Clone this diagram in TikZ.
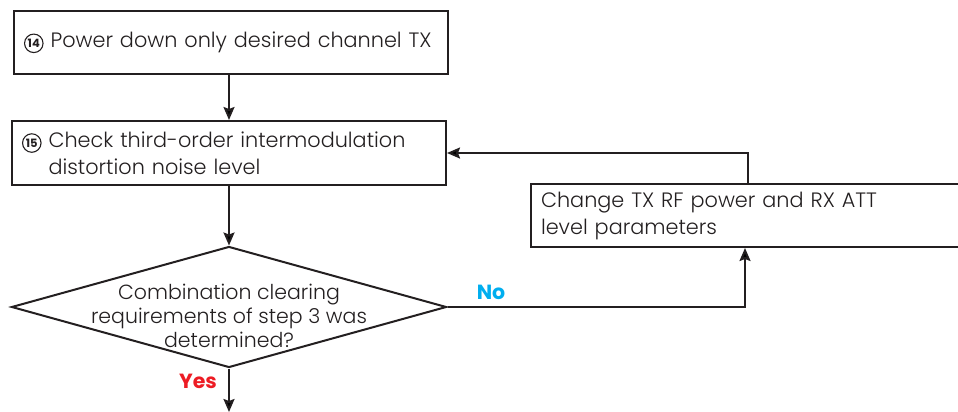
\documentclass[tikz,border=0pt]{standalone}
\usepackage{fontspec}
\setmainfont{Poppins}[UprightFont=* Light,BoldFont=* Bold]
\usetikzlibrary{shapes.geometric,arrows.meta,calc}
\definecolor{ink}{HTML}{231F20}
\definecolor{nocol}{HTML}{00AEEF}
\definecolor{yescol}{HTML}{ED1C24}
\newcommand{\cnum}[1]{\tikz[baseline=(cn.base)]\node[circle,draw=ink,line width=1.1pt,inner sep=0.5pt,minimum size=18.5pt,font=\fontsize{11.5}{11.5}\selectfont\bfseries](cn){#1};}
\begin{document}
\begin{tikzpicture}[x=1pt,y=-1pt,
  every node/.style={text=ink},
  box/.style={draw=ink,line width=2pt,rectangle,minimum height=63pt,inner xsep=10pt,align=left,anchor=north west,font=\fontsize{20.8}{27}\selectfont},
  dec/.style={draw=ink,line width=2pt,diamond,aspect=3.6,inner sep=0pt,minimum width=435pt,minimum height=121pt},
  dectext/.style={align=center,font=\fontsize{20.5}{24}\selectfont},
  conn/.style={draw=ink,line width=2pt,-{Stealth[length=13pt,width=11pt,inset=2pt]}},
  lab/.style={font=\fontsize{20.5}{20.5}\selectfont\bfseries}]
\useasboundingbox (0,0) rectangle (958,412);
\node[box,minimum width=434pt,text width=414pt] (b1) at (13,10) {\cnum{14} Power down only desired channel TX};
\node[box,minimum width=434pt,minimum height=64pt,text width=414pt] (b2) at (11,120) {\cnum{15} Check third-order intermodulation\\\hphantom{\cnum{15} }distortion noise level};
\node[box,minimum width=480pt,text width=460pt] (b3) at (530,183) {Change TX RF power and RX ATT\\level parameters};
\node[dec] (d) at (229,307) {};
\node[dectext] (dt) at (229,316) {Combination clearing\\requirements of step 3 was\\determined?};
\coordinate (end) at (229,412);
\draw[conn] (b1.south -| d.north) -- (b2.north -| d.north);
\draw[conn] (b2.south -| d.north) -- (d.north);
\draw[conn] (d.east) -| ($(b3.south west)+(215,0)$);
\draw[conn] ($(b3.north west)+(218,0)$) |- (b2.east);
\draw[conn] (d.south) -- (end);
\node[lab,text=nocol] (no) at (491,292) {No};
\node[lab,text=yescol] (yes) at (198,381) {Yes};
\end{tikzpicture}
\end{document}
